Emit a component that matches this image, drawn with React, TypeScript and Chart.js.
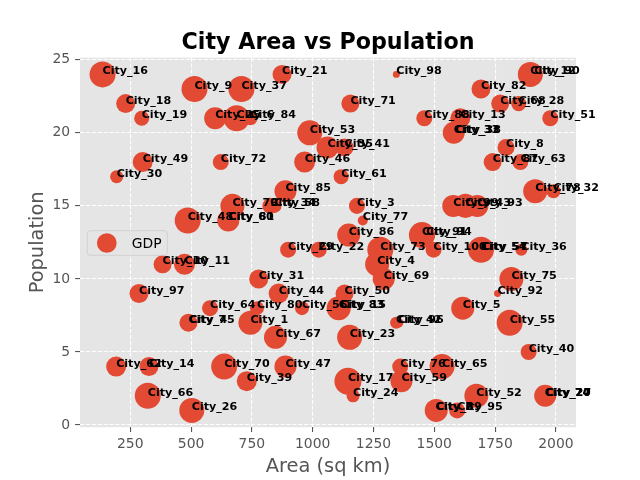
import React, { useEffect, useRef } from "react";
import { Chart, registerables } from "chart.js";
Chart.register(...registerables);

const cities = [
  "City_1","City_2","City_3","City_4","City_5","City_6","City_7","City_8","City_9","City_10",
  "City_11","City_12","City_13","City_14","City_15","City_16","City_17","City_18","City_19","City_20",
  "City_21","City_22","City_23","City_24","City_25","City_26","City_27","City_28","City_29","City_30",
  "City_31","City_32","City_33","City_34","City_35","City_36","City_37","City_38","City_39","City_40",
  "City_41","City_42","City_43","City_44","City_45","City_46","City_47","City_48","City_49","City_50",
  "City_51","City_52","City_53","City_54","City_55","City_56","City_57","City_58","City_59","City_60",
  "City_61","City_62","City_63","City_64","City_65","City_66","City_67","City_68","City_69","City_70",
  "City_71","City_72","City_73","City_74","City_75","City_76","City_77","City_78","City_79","City_80",
  "City_81","City_82","City_83","City_84","City_85","City_86","City_87","City_88","City_89","City_90",
  "City_91","City_92","City_93","City_94","City_95","City_96","City_97","City_98","City_99","City_100",
];

const areas = [
  744, 1505, 1182, 1265, 1617, 687, 489, 1795, 514, 383,
  473, 1895, 1607, 327, 1114, 136, 1145, 231, 297, 1956,
  874, 1025, 1152, 1166, 599, 503, 1958, 1847, 899, 194,
  778, 1990, 1580, 826, 1061, 1858, 707, 1587, 729, 1888,
  1131, 1343, 1628, 860, 493, 967, 888, 486, 301, 1131,
  1977, 1673, 988, 1692, 1810, 956, 1697, 843, 1365, 653,
  1117, 192, 1854, 578, 1532, 322, 847, 1771, 1292, 636,
  1155, 622, 1278, 1954, 1817, 1360, 1206, 1915, 670, 771,
  655, 1692, 1107, 744, 888, 1148, 1740, 1459, 1508, 1911,
  1449, 1760, 1677, 1467, 1594, 1352, 286, 1344, 1578, 1497,
];

const populations = [
  7, 1, 15, 11, 8, 21, 7, 19, 23, 11,
  11, 24, 21, 4, 8, 24, 3, 22, 21, 2,
  24, 12, 6, 2, 21, 1, 2, 22, 12, 17,
  10, 16, 20, 15, 19, 12, 23, 20, 3, 5,
  19, 7, 15, 9, 7, 18, 4, 14, 18, 9,
  21, 2, 20, 12, 7, 8, 12, 15, 3, 14,
  17, 4, 18, 8, 4, 2, 6, 22, 10, 4,
  22, 18, 12, 2, 10, 4, 14, 16, 15, 8,
  14, 23, 8, 21, 16, 13, 18, 21, 1, 24,
  13, 9, 15, 13, 1, 7, 9, 24, 15, 12,
];

const gdp = [
  299, 133, 133, 299, 274, 350, 168, 150, 350, 168,
  229, 324, 207, 187, 133, 350, 378, 187, 117, 251,
  187, 133, 324, 88, 251, 324, 75, 117, 133, 88,
  187, 102, 251, 133, 251, 75, 350, 133, 207, 133,
  168, 75, 299, 207, 133, 229, 251, 350, 207, 168,
  133, 299, 324, 350, 350, 102, 207, 102, 251, 251,
  117, 207, 133, 133, 324, 350, 274, 168, 251, 350,
  168, 133, 350, 133, 299, 133, 52, 299, 299, 102,
  133, 187, 299, 102, 251, 274, 168, 133, 274, 133,
  350, 25, 251, 168, 133, 52, 187, 25, 251, 133,
];

const xTicks = [250, 500, 750, 1000, 1250, 1500, 1750, 2000];
const yTicks = [0, 5, 10, 15, 20, 25];

const TITLE = "City Area vs Population";
const X_LABEL = "Area (sq km)";
const Y_LABEL = "Population";
const LEGEND_LABEL = "GDP";
const COLOR = "#E24A33";
const FONT = '"DejaVu Sans", sans-serif';

// matplotlib scatter s (pt^2) -> radius in px at 100 dpi
const sizeToRadius = (s: number) => (Math.sqrt(s) / 2) * (100 / 72);

function dataRange(vals: number[]) {
  const lo = Math.min(...vals);
  const hi = Math.max(...vals);
  const m = (hi - lo) * 0.05;
  return [lo - m, hi + m];
}

export default function App() {
  const ref = useRef<HTMLCanvasElement | null>(null);

  useEffect(() => {
    if (!ref.current) return;
    const [xmin, xmax] = dataRange(areas);
    const [ymin, ymax] = dataRange(populations);
    const points = areas.map((a, i) => ({ x: a, y: populations[i], r: sizeToRadius(gdp[i]) }));
    const legendR = sizeToRadius(0.5 * (Math.max(...gdp) + Math.min(...gdp)));

    const deco = {
      id: "deco",
      beforeDraw(chart: any) {
        const { ctx, chartArea: a } = chart;
        ctx.save();
        ctx.fillStyle = "#E5E5E5";
        ctx.fillRect(a.left, a.top, a.right - a.left, a.bottom - a.top);
        ctx.restore();
      },
      afterDatasetsDraw(chart: any) {
        const { ctx } = chart;
        const xs = chart.scales.x;
        const ys = chart.scales.y;
        ctx.save();
        ctx.font = `bold 11.1px ${FONT}`;
        ctx.fillStyle = "#000000";
        ctx.textAlign = "left";
        ctx.textBaseline = "alphabetic";
        cities.forEach((c, i) => {
          ctx.fillText(c, xs.getPixelForValue(areas[i]), ys.getPixelForValue(populations[i]));
        });
        ctx.restore();
      },
      afterDraw(chart: any) {
        const { ctx, chartArea: a } = chart;
        const cx = (a.left + a.right) / 2;
        ctx.save();
        // title
        ctx.font = `bold 22.2px ${FONT}`;
        ctx.fillStyle = "#000000";
        ctx.textAlign = "center";
        ctx.textBaseline = "alphabetic";
        ctx.fillText(TITLE, cx, a.top - 8.3);
        // x label
        ctx.font = `19.4px ${FONT}`;
        ctx.fillStyle = "#555555";
        ctx.fillText(X_LABEL, cx, 472);
        // y label
        ctx.save();
        ctx.translate(38, (a.top + a.bottom) / 2);
        ctx.rotate(-Math.PI / 2);
        ctx.textBaseline = "middle";
        ctx.fillText(Y_LABEL, 0, 0);
        ctx.restore();
        // legend
        const lx = 87.3, ly = 230.7, lw = 80, lh = 24.6, rr = 2.8;
        ctx.beginPath();
        ctx.moveTo(lx + rr, ly);
        ctx.lineTo(lx + lw - rr, ly);
        ctx.quadraticCurveTo(lx + lw, ly, lx + lw, ly + rr);
        ctx.lineTo(lx + lw, ly + lh - rr);
        ctx.quadraticCurveTo(lx + lw, ly + lh, lx + lw - rr, ly + lh);
        ctx.lineTo(lx + rr, ly + lh);
        ctx.quadraticCurveTo(lx, ly + lh, lx, ly + lh - rr);
        ctx.lineTo(lx, ly + rr);
        ctx.quadraticCurveTo(lx, ly, lx + rr, ly);
        ctx.closePath();
        ctx.fillStyle = "rgba(229,229,229,0.8)";
        ctx.fill();
        ctx.strokeStyle = "rgba(204,204,204,0.8)";
        ctx.lineWidth = 1;
        ctx.stroke();
        ctx.beginPath();
        ctx.arc(lx + 5.6 + 13.9, ly + lh / 2, legendR, 0, Math.PI * 2);
        ctx.fillStyle = COLOR;
        ctx.fill();
        ctx.font = `13.9px ${FONT}`;
        ctx.fillStyle = "#000000";
        ctx.textAlign = "left";
        ctx.textBaseline = "middle";
        ctx.fillText(LEGEND_LABEL, lx + 5.6 + 27.8 + 11.1, ly + lh / 2 + 1);
        ctx.restore();
      },
    };

    const gridCommon = {
      color: "#FFFFFF",
      lineWidth: 1.1,
      drawTicks: true,
      tickLength: 4.9,
      tickColor: "#555555",
      tickWidth: 1.1,
      tickBorderDash: [],
    };

    const chart = new Chart(ref.current, {
      type: "bubble",
      data: {
        datasets: [
          {
            label: LEGEND_LABEL,
            data: points,
            backgroundColor: COLOR,
            borderWidth: 0,
            hoverRadius: 0,
          } as any,
        ],
      },
      plugins: [deco],
      options: {
        responsive: false,
        animation: false,
        devicePixelRatio: 1,
        events: [],
        layout: { padding: { top: 57.6, right: 64, bottom: 0, left: 0 } },
        plugins: {
          legend: { display: false },
          title: { display: false },
          tooltip: { enabled: false },
        },
        scales: {
          x: {
            type: "linear",
            min: xmin,
            max: xmax,
            grid: gridCommon as any,
            border: { display: false, dash: [4.1, 1.8] },
            ticks: {
              autoSkip: false,
              maxRotation: 0,
              color: "#555555",
              padding: 4,
              font: { family: FONT, size: 13.9 },
              callback: (v: any) => String(v),
            },
            afterBuildTicks: (s: any) => {
              s.ticks = xTicks.map((v) => ({ value: v }));
            },
            afterFit: (s: any) => {
              s.height = 52.8;
            },
          },
          y: {
            type: "linear",
            min: ymin,
            max: ymax,
            grid: gridCommon as any,
            border: { display: false, dash: [4.1, 1.8] },
            ticks: {
              autoSkip: false,
              color: "#555555",
              padding: 4.9,
              font: { family: FONT, size: 13.9 },
              callback: (v: any) => String(v),
            },
            afterBuildTicks: (s: any) => {
              s.ticks = yTicks.map((v) => ({ value: v }));
            },
            afterFit: (s: any) => {
              s.width = 80;
            },
          },
        },
      } as any,
    });
    return () => chart.destroy();
  }, []);

  return (
    <div style={{ position: "absolute", left: 0, top: 0, width: 640, height: 480, background: "#ffffff" }}>
      <canvas ref={ref} width={640} height={480} style={{ display: "block" }} />
    </div>
  );
}
